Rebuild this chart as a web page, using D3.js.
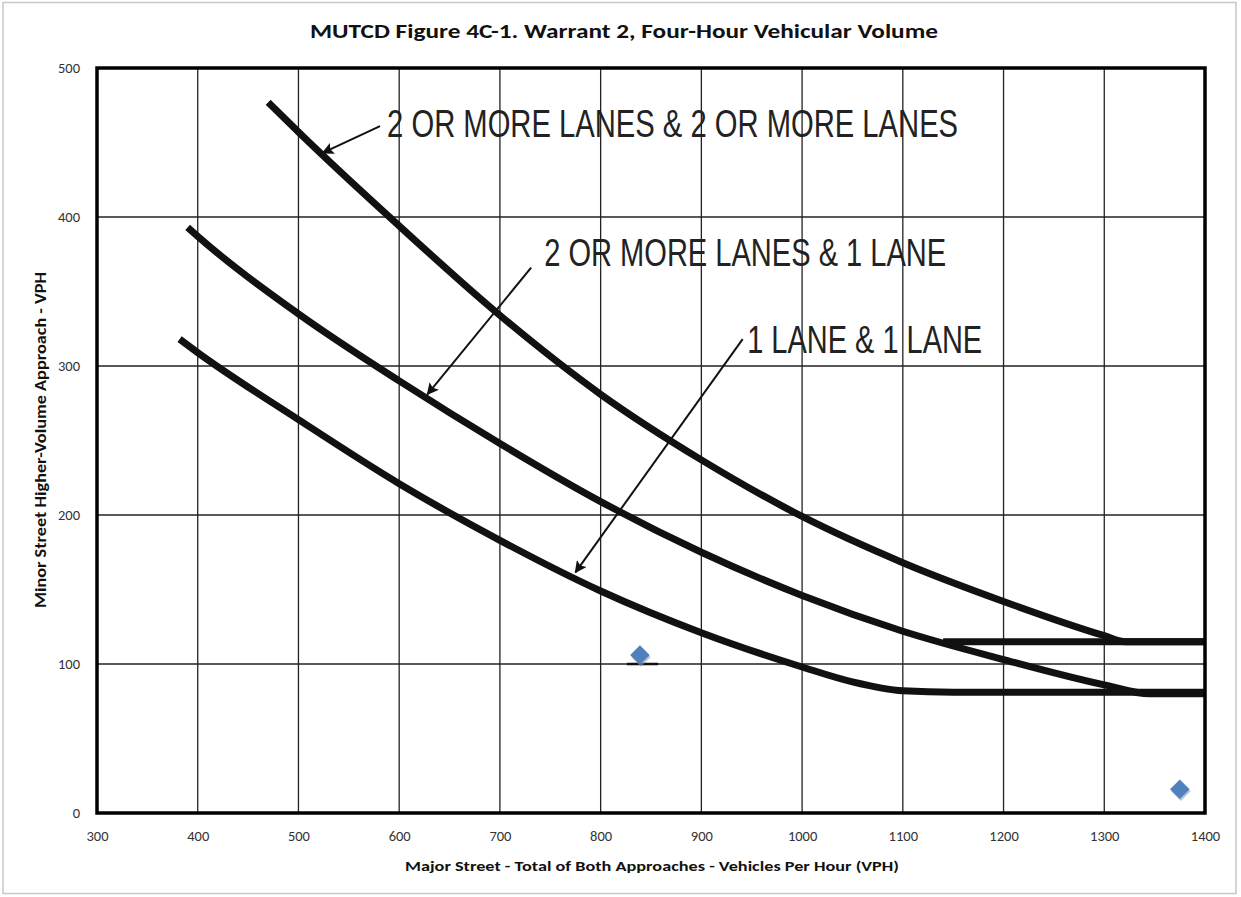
<!DOCTYPE html>
<html>
<head>
<meta charset="utf-8">
<script src="https://cdn.jsdelivr.net/npm/d3@7"></script>
<style>
  html, body { margin: 0; padding: 0; background: #fff; }
  svg { display: block; }
</style>
</head>
<body>
<svg id="chart" width="1241" height="897"></svg>
<script>
// ---------- data ----------
const xTicks = [300, 400, 500, 600, 700, 800, 900, 1000, 1100, 1200, 1300, 1400];
const yTicks = [0, 100, 200, 300, 400, 500];

// 2 OR MORE LANES & 2 OR MORE LANES
const curve22X = [470, 500, 600, 700, 800, 900, 1000, 1100, 1200, 1300, 1320, 1400];
const curve22Y = [477, 457, 394, 334, 281, 237, 199, 168, 142, 119, 115, 115];
// 2 OR MORE LANES & 1 LANE
const curve21X = [390, 400, 500, 600, 700, 800, 900, 1000, 1100, 1200, 1300, 1345, 1400];
const curve21Y = [393, 387, 335, 290, 248, 209, 175, 146, 122, 103, 86, 80, 80];
// 1 LANE & 1 LANE
const curve11X = [382, 400, 500, 600, 700, 800, 900, 1000, 1050, 1100, 1150, 1400];
const curve11Y = [318, 309, 264, 221, 183, 149, 121, 98, 88, 82, 81, 81];
// extra horizontal segment at 115 VPH
const hlineX = [1140, 1400];
const hlineY = [115, 115];

// observed points (blue diamonds)
const pointsX = [839, 1375];
const pointsY = [106, 16];
// short dash under the first point
const dashX = [826, 857];
const dashY = [100, 100];

// annotation labels
const labelTexts = ["2 OR MORE LANES & 2 OR MORE LANES", "2 OR MORE LANES & 1 LANE", "1 LANE & 1 LANE"];
const labelX = [588, 744, 945.5];
const labelY = [454, 367, 309];
const arrowFromX = [581, 731, 941];
const arrowFromY = [461, 366, 318];
const arrowToX = [524, 628, 775];
const arrowToY = [443, 281, 161.5];

const titleText = "MUTCD Figure 4C-1. Warrant 2, Four-Hour Vehicular Volume";
const xLabel = "Major Street - Total of Both Approaches - Vehicles Per Hour (VPH)";
const yLabel = "Minor Street Higher-Volume Approach - VPH";

// ---------- drawing ----------
(function () {
const svg = d3.select("#chart");
const W = 1241, H = 897;
const mLeft = 97, mRight = 1205, mTop = 68, mBottom = 813;

const x = d3.scaleLinear().domain([300, 1400]).range([mLeft, mRight]);
const y = d3.scaleLinear().domain([0, 500]).range([mBottom, mTop]);

const font = "Carlito, Calibri, Lato, 'Open Sans', sans-serif";

svg.append("rect").attr("x", 0).attr("y", 0).attr("width", W).attr("height", H).attr("fill", "#fff");
// outer light border
svg.append("rect").attr("x", 3).attr("y", 2.5).attr("width", 1233).attr("height", 891)
  .attr("fill", "none").attr("stroke", "#c8c8c8").attr("stroke-width", 1.5);

// grid
const grid = svg.append("g");
grid.selectAll("line.v").data(xTicks).join("line").attr("class", "v")
  .attr("x1", d => x(d)).attr("x2", d => x(d))
  .attr("y1", mTop).attr("y2", mBottom)
  .attr("stroke", "#222").attr("stroke-width", 1.3);
grid.selectAll("line.h").data(yTicks).join("line").attr("class", "h")
  .attr("x1", mLeft).attr("x2", mRight)
  .attr("y1", d => y(d)).attr("y2", d => y(d))
  .attr("stroke", "#222").attr("stroke-width", 1.3);

// axes (labels only)
const fmt = d3.format("d");
const xAxis = d3.axisBottom(x).tickValues(xTicks).tickFormat(fmt).tickSize(0).tickPadding(18);
const yAxis = d3.axisLeft(y).tickValues(yTicks).tickFormat(fmt).tickSize(0).tickPadding(17);
const gx = svg.append("g").attr("transform", `translate(0,${mBottom})`).call(xAxis);
const gy = svg.append("g").attr("transform", `translate(${mLeft},0)`).call(yAxis);
[gx, gy].forEach(g => {
  g.select(".domain").remove();
  g.selectAll("text").attr("font-family", font).attr("font-size", 14.5).attr("fill", "#333");
});

// curves
const line = d3.line().x(d => x(d[0])).y(d => y(d[1])).curve(d3.curveMonotoneX);
const series = [
  d3.zip(curve22X, curve22Y),
  d3.zip(curve21X, curve21Y),
  d3.zip(curve11X, curve11Y),
  d3.zip(hlineX, hlineY)
];
svg.append("g").selectAll("path").data(series).join("path")
  .attr("d", line)
  .attr("fill", "none").attr("stroke", "#111").attr("stroke-width", 7)
  .attr("stroke-linecap", "butt").attr("stroke-linejoin", "round");

// frame
svg.append("rect").attr("x", mLeft).attr("y", mTop).attr("width", mRight - mLeft).attr("height", mBottom - mTop)
  .attr("fill", "none").attr("stroke", "#000").attr("stroke-width", 3.5);

// arrows
const defs = svg.append("defs");
defs.append("marker").attr("id", "arrow").attr("viewBox", "0 0 10 10")
  .attr("refX", 9).attr("refY", 5).attr("markerWidth", 16).attr("markerHeight", 12)
  .attr("markerUnits", "userSpaceOnUse").attr("orient", "auto")
  .append("path").attr("d", "M0,0 L10,5 L0,10 L2,5 Z").attr("fill", "#111");

const arrows = d3.range(labelTexts.length);
svg.append("g").selectAll("line").data(arrows).join("line")
  .attr("x1", i => x(arrowFromX[i])).attr("y1", i => y(arrowFromY[i]))
  .attr("x2", i => x(arrowToX[i])).attr("y2", i => y(arrowToY[i]))
  .attr("stroke", "#111").attr("stroke-width", 2)
  .attr("marker-end", "url(#arrow)");

const labelWidths = [571, 402, 235];
svg.append("g").selectAll("text").data(arrows).join("text")
  .attr("x", i => x(labelX[i])).attr("y", i => y(labelY[i]))
  .attr("font-family", "'Liberation Sans Narrow', 'Liberation Sans', Arial, sans-serif")
  .attr("font-size", 38).attr("fill", "#222")
  .attr("textLength", i => labelWidths[i]).attr("lengthAdjust", "spacingAndGlyphs")
  .text(i => labelTexts[i]);

// short dash under first point
svg.append("line")
  .attr("x1", x(dashX[0])).attr("x2", x(dashX[1]))
  .attr("y1", y(dashY[0])).attr("y2", y(dashY[1]))
  .attr("stroke", "#111").attr("stroke-width", 2.5);

// observed points
const diamond = d3.symbol().type(d3.symbolSquare).size(190);
const pts = d3.zip(pointsX, pointsY);
svg.append("g").selectAll("path").data(pts).join("path")
  .attr("d", diamond)
  .attr("transform", d => `translate(${x(d[0]) + 1},${y(d[1]) + 2}) rotate(45)`)
  .attr("fill", "#8a9db5").attr("opacity", 0.6);
svg.append("g").selectAll("path").data(pts).join("path")
  .attr("d", diamond)
  .attr("transform", d => `translate(${x(d[0])},${y(d[1])}) rotate(45)`)
  .attr("fill", "#4f81bd");

// title
svg.append("text").attr("x", 624).attr("y", 38).attr("text-anchor", "middle")
  .attr("font-family", font).attr("font-weight", "bold").attr("font-size", 19.5).attr("fill", "#111")
  .attr("textLength", 628).attr("lengthAdjust", "spacingAndGlyphs")
  .text(titleText);

// axis titles
svg.append("text").attr("x", 652).attr("y", 871).attr("text-anchor", "middle")
  .attr("font-family", font).attr("font-weight", "bold").attr("font-size", 14.5).attr("fill", "#111")
  .attr("textLength", 494).attr("lengthAdjust", "spacingAndGlyphs")
  .text(xLabel);

svg.append("text").attr("transform", "translate(46,440) rotate(-90)").attr("text-anchor", "middle")
  .attr("font-family", font).attr("font-weight", "bold").attr("font-size", 15).attr("fill", "#111")
  .attr("textLength", 336).attr("lengthAdjust", "spacingAndGlyphs")
  .text(yLabel);
})();
</script>
</body>
</html>
